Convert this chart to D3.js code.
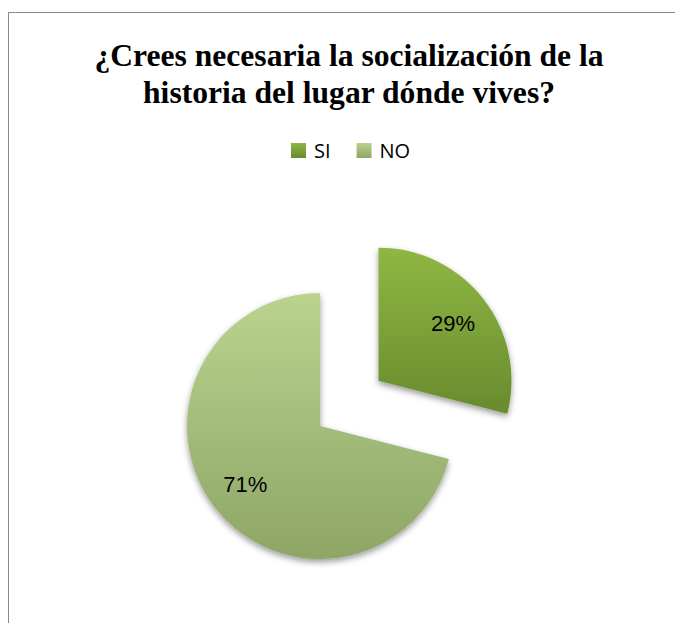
<!DOCTYPE html>
<html>
<head>
<meta charset="utf-8">
<script src="https://cdn.jsdelivr.net/npm/d3@7"></script>
<style>
  body { margin: 0; background: #fff; }
  svg { display: block; }
</style>
</head>
<body>
<div id="chart"></div>
<script>
const titleLines = ["¿Crees necesaria la socialización de la", "historia del lugar dónde vives?"];
const categories = ["SI", "NO"];
const values = [29, 71];
const colorsTop = ["#8fb744", "#bad48f"];
const colorsBottom = ["#688b2d", "#8ea566"];

const width = 675, height = 623;
const cx = 320, cy = 426, radius = 133;
const explode = [74, 0];

const svg = d3.select("#chart").append("svg")
    .attr("width", width)
    .attr("height", height);

const defs = svg.append("defs");

categories.forEach((c, i) => {
    const g = defs.append("linearGradient")
        .attr("id", "grad" + i)
        .attr("x1", 0).attr("y1", 0).attr("x2", 0).attr("y2", 1);
    g.append("stop").attr("offset", "0%").attr("stop-color", colorsTop[i]);
    g.append("stop").attr("offset", "100%").attr("stop-color", colorsBottom[i]);
});

const shadow = defs.append("filter")
    .attr("id", "shadow")
    .attr("x", "-20%").attr("y", "-20%")
    .attr("width", "140%").attr("height", "140%");
shadow.append("feDropShadow")
    .attr("dx", 0).attr("dy", 3)
    .attr("stdDeviation", 3)
    .attr("flood-color", "#000")
    .attr("flood-opacity", 0.4);

// chart frame (runs off the right and bottom)
svg.append("rect")
    .attr("x", 8.5).attr("y", 12.5)
    .attr("width", 700).attr("height", 700)
    .attr("fill", "none")
    .attr("stroke", "#8a8a8a")
    .attr("stroke-width", 1);

svg.append("g")
    .selectAll("text")
    .data(titleLines)
    .enter().append("text")
    .attr("x", 349)
    .attr("y", (d, i) => 66 + i * 37)
    .attr("text-anchor", "middle")
    .attr("font-family", "'Liberation Serif', 'Times New Roman', serif")
    .attr("font-weight", "bold")
    .attr("font-size", 31.6)
    .attr("fill", "#000")
    .text(d => d);

// legend, laid out left to right
const legend = svg.append("g").attr("transform", "translate(291,143)");
let lx = 0;
categories.forEach((c, i) => {
    const item = legend.append("g").attr("transform", `translate(${lx},0)`);
    item.append("rect")
        .attr("width", 15).attr("height", 15)
        .attr("fill", `url(#grad${i})`);
    const t = item.append("text")
        .attr("x", 23)
        .attr("y", 15)
        .attr("font-family", "'Open Sans', sans-serif")
        .attr("font-size", 20)
        .attr("fill", "#000")
        .text(c);
    lx += 23 + t.node().getComputedTextLength() + 26;
});

// pie
const pie = d3.pie().sort(null).value(d => d);
const arcs = pie(values);
const arc = d3.arc().innerRadius(0).outerRadius(radius);
const labelArc = d3.arc().innerRadius(radius * 0.71).outerRadius(radius * 0.71);

const slices = svg.append("g")
    .attr("transform", `translate(${cx},${cy})`)
    .selectAll("g")
    .data(arcs)
    .enter().append("g")
    .attr("transform", (d, i) => {
        const mid = (d.startAngle + d.endAngle) / 2;
        return `translate(${Math.sin(mid) * explode[i]},${-Math.cos(mid) * explode[i]})`;
    });

slices.append("path")
    .attr("d", arc)
    .attr("fill", (d, i) => `url(#grad${i})`)
    .attr("filter", "url(#shadow)");

slices.append("text")
    .attr("transform", d => `translate(${labelArc.centroid(d)})`)
    .attr("text-anchor", "middle")
    .attr("dy", "0.36em")
    .attr("font-family", "'Liberation Sans', Arial, sans-serif")
    .attr("font-size", 22)
    .attr("fill", "#000")
    .text(d => d.data + "%");
</script>
</body>
</html>
